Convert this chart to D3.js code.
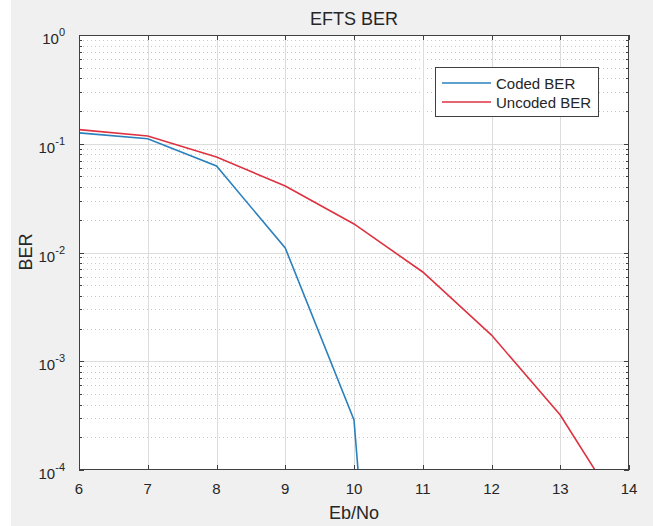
<!DOCTYPE html>
<html><head><meta charset="utf-8">
<script src="https://cdn.jsdelivr.net/npm/d3@7"></script>
<style>
html,body{margin:0;padding:0;background:#fff;}
text{font-family:Arial,"Liberation Sans",Helvetica,sans-serif;fill:#262626;}
</style></head>
<body>
<svg id="c" width="653" height="526"></svg>
<script>
const ebno = [6, 7, 8, 9, 10, 11, 12, 13, 14];
const codedX = [6, 7, 8, 9, 10, 11];
const codedBER = [0.126, 0.111, 0.0624, 0.011, 2.88e-4, 4e-12];
const uncodedBER = [0.135, 0.118, 0.0755, 0.0409, 0.0183, 0.00662, 0.00174, 3.2e-4, 3.2e-5];
const xTicks = [6, 7, 8, 9, 10, 11, 12, 13, 14];
const yExponents = [0, -1, -2, -3, -4];
const seriesNames = ["Coded BER", "Uncoded BER"];
const seriesColors = ["#2a80bd", "#dd3340"];

const W = 653, H = 526;
const m = {left: 79, right: 629, top: 35, bottom: 470};
const svg = d3.select("#c");
svg.append("rect").attr("x", 11).attr("y", 0).attr("width", W - 11).attr("height", H).attr("fill", "#f0f0f0");

const x = d3.scaleLinear().domain([6, 14]).range([m.left, m.right]);
const y = d3.scaleLog().domain([1e-4, 1]).range([m.bottom, m.top]);

svg.append("rect").attr("x", m.left).attr("y", m.top).attr("width", m.right - m.left).attr("height", m.bottom - m.top).attr("fill", "#fff");

// minor y values
const minorY = [];
yExponents.slice(1).forEach(e => { for (let k = 2; k <= 9; k++) minorY.push(k * Math.pow(10, e)); });

const grid = svg.append("g");
// minor grid dotted
grid.selectAll("line.minor").data(minorY).join("line")
  .attr("x1", m.left).attr("x2", m.right)
  .attr("y1", d => Math.round(y(d)) + 0.5).attr("y2", d => Math.round(y(d)) + 0.5)
  .attr("stroke", "#c8c8c8").attr("stroke-width", 1).attr("stroke-dasharray", "1,3");
// major grid
grid.selectAll("line.majy").data(yExponents.slice(1, 4).map(e => Math.pow(10, e))).join("line")
  .attr("x1", m.left).attr("x2", m.right)
  .attr("y1", d => Math.round(y(d)) + 0.5).attr("y2", d => Math.round(y(d)) + 0.5)
  .attr("stroke", "#dcdcdc").attr("stroke-width", 1);
svg.append("g").selectAll("line").data(xTicks.slice(1, -1)).join("line")
  .attr("x1", d => Math.round(x(d)) + 0.5).attr("x2", d => Math.round(x(d)) + 0.5)
  .attr("y1", m.top).attr("y2", m.bottom)
  .attr("stroke", "#dcdcdc").attr("stroke-width", 1);

// clip
svg.append("clipPath").attr("id", "clip").append("rect")
  .attr("x", m.left).attr("y", m.top).attr("width", m.right - m.left).attr("height", m.bottom - m.top);

const line = d3.line().x(d => x(d[0])).y(d => y(d[1]));
const plot = svg.append("g").attr("clip-path", "url(#clip)");
plot.append("path").datum(codedX.map((v, i) => [v, codedBER[i]]))
  .attr("d", line).attr("fill", "none").attr("stroke", seriesColors[0]).attr("stroke-width", 1.6);
plot.append("path").datum(ebno.map((v, i) => [v, uncodedBER[i]]))
  .attr("d", line).attr("fill", "none").attr("stroke", seriesColors[1]).attr("stroke-width", 1.6);

// axes (ticks inward)
const axCol = "#404040";
const tickLen = 5, minorLen = 3;
const ax = svg.append("g").attr("stroke", axCol).attr("stroke-width", 1);
xTicks.forEach(t => {
  const px = Math.round(x(t)) + 0.5;
  ax.append("line").attr("x1", px).attr("x2", px).attr("y1", m.bottom).attr("y2", m.bottom - tickLen);
  ax.append("line").attr("x1", px).attr("x2", px).attr("y1", m.top).attr("y2", m.top + tickLen);
});
yExponents.forEach(e => {
  const py = Math.round(y(Math.pow(10, e))) + 0.5;
  ax.append("line").attr("x1", m.left).attr("x2", m.left + tickLen).attr("y1", py).attr("y2", py);
  ax.append("line").attr("x1", m.right).attr("x2", m.right - tickLen).attr("y1", py).attr("y2", py);
});
minorY.forEach(v => {
  const py = Math.round(y(v)) + 0.5;
  ax.append("line").attr("x1", m.left).attr("x2", m.left + minorLen).attr("y1", py).attr("y2", py);
  ax.append("line").attr("x1", m.right).attr("x2", m.right - minorLen).attr("y1", py).attr("y2", py);
});
ax.append("rect").attr("x", m.left + 0.5).attr("y", m.top + 0.5)
  .attr("width", m.right - m.left - 1).attr("height", m.bottom - m.top - 1).attr("fill", "none");

// x tick labels
svg.append("g").selectAll("text").data(xTicks).join("text")
  .attr("x", d => x(d)).attr("y", 494).attr("text-anchor", "middle")
  .attr("font-size", 15).text(d => d);

// y tick labels
const yl = svg.append("g");
yExponents.forEach(e => {
  const t = yl.append("text").attr("x", 65).attr("y", y(Math.pow(10, e)) + 9)
    .attr("text-anchor", "end").attr("font-size", 15);
  t.append("tspan").text("10");
  t.append("tspan").attr("dy", -8).attr("font-size", 11).text(e);
});

// title and labels
svg.append("text").attr("x", 354).attr("y", 25).attr("text-anchor", "middle").attr("font-size", 18).text("EFTS BER");
svg.append("text").attr("x", 354).attr("y", 519).attr("text-anchor", "middle").attr("font-size", 18).text("Eb/No");
svg.append("text").attr("transform", "translate(32,252) rotate(-90)").attr("text-anchor", "middle").attr("font-size", 18).text("BER");

// legend
const lg = svg.append("g");
lg.append("rect").attr("x", 435.5).attr("y", 67.5).attr("width", 163).attr("height", 49)
  .attr("fill", "#fff").attr("stroke", "#404040").attr("stroke-width", 1);
seriesNames.forEach((n, i) => {
  const cy = 83 + i * 19;
  lg.append("line").attr("x1", 442).attr("x2", 491).attr("y1", cy).attr("y2", cy)
    .attr("stroke", seriesColors[i]).attr("stroke-width", 1.6);
  lg.append("text").attr("x", 496).attr("y", cy + 5.5).attr("font-size", 15).text(n);
});
</script>
</body></html>
